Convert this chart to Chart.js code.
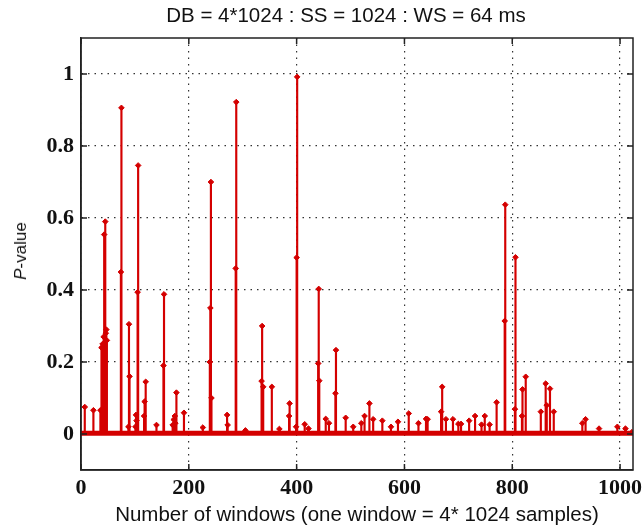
<!DOCTYPE html>
<html>
<head>
<meta charset="utf-8">
<script src="https://cdn.jsdelivr.net/npm/chart.js@4"></script>
<style>
html, body { margin: 0; padding: 0; background: #fff; }
#wrap { position: relative; width: 643px; height: 532px; }
#title {
    position: absolute; left: 346px; top: 15px;
    transform: translate(-50%, -50%);
    font: 20.5px "Liberation Sans", Arial, sans-serif;
    white-space: nowrap; color: #111;
}
#ylabel {
    position: absolute; left: 21px; top: 251px;
    transform: translate(-50%, -50%) rotate(-90deg);
    font: 17px "Liberation Sans", Arial, sans-serif;
    white-space: nowrap; color: #111;
}
</style>
</head>
<body>
<div id="wrap">
    <canvas id="pChart" width="643" height="532"></canvas>
    <div id="title">DB = 4*1024 : SS = 1024 : WS = 64 ms</div>
    <div id="ylabel"><i>P</i>-value</div>
</div>
<script>
// window index and P-value of every visible stem
const windows = [7, 23, 36, 38, 40, 42, 43, 45, 46, 47, 48, 74, 75, 88, 89, 90, 101, 102, 103, 105, 106,
    117, 118, 120, 140, 153, 154, 170, 172, 174, 175, 177, 191, 226, 239, 240, 241, 242, 271, 272,
    287, 288, 305, 335, 336, 338, 354, 368, 386, 387, 399, 400, 401, 415, 422, 440, 441, 442, 454,
    460, 472, 473, 491, 505, 520, 526, 535, 542, 559, 575, 588, 608, 626, 640, 643, 668, 670, 677,
    690, 700, 705, 720, 731, 743, 749, 758, 771, 786, 787, 805, 806, 818, 819, 825, 853, 862, 864,
    870, 877, 930, 936, 961, 995, 1010, 1022];
const pValues = [0.075, 0.066, 0.066, 0.24, 0.25, 0.27, 0.554, 0.59, 0.28, 0.29, 0.26, 0.45, 0.906,
    0.02, 0.305, 0.16, 0.02, 0.053, 0.037, 0.394, 0.746, 0.05, 0.09, 0.145, 0.025, 0.19, 0.388,
    0.025, 0.04, 0.05, 0.03, 0.115, 0.059, 0.018, 0.2, 0.35, 0.70, 0.1, 0.053, 0.025, 0.46, 0.922,
    0.01, 0.147, 0.30, 0.131, 0.131, 0.014, 0.05, 0.085, 0.02, 0.49, 0.992, 0.027, 0.015, 0.196,
    0.403, 0.148, 0.042, 0.03, 0.113, 0.233, 0.045, 0.02, 0.03, 0.05, 0.085, 0.041, 0.037, 0.02,
    0.034, 0.057, 0.03, 0.042, 0.041, 0.062, 0.131, 0.041, 0.041, 0.028, 0.028, 0.037, 0.05, 0.026,
    0.05, 0.026, 0.088, 0.314, 0.637, 0.069, 0.491, 0.05, 0.124, 0.159, 0.062, 0.14, 0.08, 0.126,
    0.062, 0.03, 0.041, 0.015, 0.02, 0.015, 0.005];

// the dense band of near-zero stems along the bottom
const baseX = [0, 1024];
const baseY = [0.002, 0.002];

const xTicks = [0, 200, 400, 600, 800, 1000];
const yTicks = [0, 0.2, 0.4, 0.6, 0.8, 1];

const red = '#d40000';
const pts = windows.map((w, i) => ({ x: w, y: pValues[i] }));

const framePlugin = {
    id: 'frame',
    afterDraw(c) {
        const { ctx, chartArea: a, scales } = c;
        ctx.save();
        ctx.strokeStyle = '#222';
        ctx.lineWidth = 1.5;
        ctx.strokeRect(a.left, a.top, a.right - a.left, a.bottom - a.top);
        ctx.beginPath();
        xTicks.forEach(v => {
            const px = scales.x.getPixelForValue(v);
            ctx.moveTo(px, a.top); ctx.lineTo(px, a.top + 6);
            ctx.moveTo(px, a.bottom); ctx.lineTo(px, a.bottom - 6);
        });
        yTicks.forEach(v => {
            const py = scales.y.getPixelForValue(v);
            ctx.moveTo(a.left, py); ctx.lineTo(a.left + 6, py);
            ctx.moveTo(a.right, py); ctx.lineTo(a.right - 6, py);
        });
        ctx.stroke();
        ctx.restore();
    }
};

new Chart(document.getElementById('pChart'), {
    type: 'bar',
    data: {
        datasets: [
            { type: 'line', data: baseX.map((x, i) => ({ x: x, y: baseY[i] })), borderColor: red,
              borderWidth: 5, pointRadius: 0, order: 3 },
            { type: 'bar', data: pts, backgroundColor: red, barThickness: 1.5, order: 2 },
            { type: 'scatter', data: pts, pointStyle: 'rectRot', pointRadius: 2.8,
              backgroundColor: red, borderColor: red, borderWidth: 1, order: 1 }
        ]
    },
    plugins: [framePlugin],
    options: {
        responsive: false,
        animation: false,
        layout: { padding: { left: 0, right: 10, top: 38, bottom: 0 } },
        plugins: {
            legend: { display: false },
            tooltip: { enabled: false },
            title: { display: false }
        },
        scales: {
            x: {
                type: 'linear', min: 0, max: 1024, offset: false,
                afterBuildTicks: s => { s.ticks = xTicks.map(v => ({ value: v })); },
                afterFit: s => { s.height = 62; s.paddingRight = 0; s.paddingLeft = 0; },
                ticks: {
                    color: '#111', padding: 5, maxRotation: 0,
                    callback: v => String(v),
                    font: { family: '"Liberation Serif", "Times New Roman", serif', size: 22, weight: 'bold' }
                },
                grid: { color: '#333', lineWidth: 1.2, drawTicks: false, offset: false },
                border: { display: true, color: '#222', width: 1.5, dash: [1.5, 5] },
                title: {
                    display: true,
                    text: 'Number of windows (one window = 4* 1024 samples)',
                    color: '#111',
                    font: { family: '"Liberation Sans", Arial, sans-serif', size: 20.5 },
                    padding: { top: 0, bottom: 4 }
                }
            },
            y: {
                min: -0.1, max: 1.1,
                afterBuildTicks: s => { s.ticks = yTicks.map(v => ({ value: v })); },
                afterFit: s => { s.width = 81; s.paddingTop = 0; s.paddingBottom = 0; },
                ticks: {
                    color: '#111', padding: 7,
                    callback: v => String(v),
                    font: { family: '"Liberation Serif", "Times New Roman", serif', size: 22, weight: 'bold' }
                },
                grid: { color: '#333', lineWidth: 1.2, drawTicks: false },
                border: { display: true, color: '#222', width: 1.5, dash: [1.5, 5] }
            }
        }
    }
});
</script>
</body>
</html>
